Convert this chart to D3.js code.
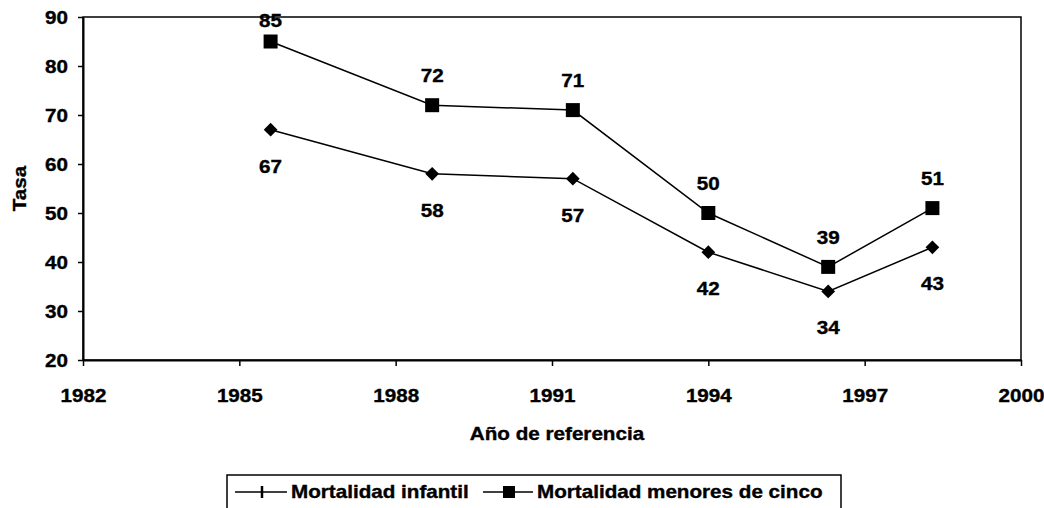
<!DOCTYPE html>
<html>
<head>
<meta charset="utf-8">
<script src="https://cdn.jsdelivr.net/npm/d3@7"></script>
<style>
  body { margin: 0; background: #fff; }
  text { font-family: "Liberation Sans", Arial, sans-serif; font-weight: bold; fill: #000; stroke: #000; stroke-width: 0.35px; }
</style>
</head>
<body>
<div id="chart"></div>
<script>
const years = [1985.6, 1988.7, 1991.4, 1994.0, 1996.3, 1998.3];
const infantil = [67, 58, 57, 42, 34, 43];
const menoresCinco = [85, 72, 71, 50, 39, 51];
const xTicks = [1982, 1985, 1988, 1991, 1994, 1997, 2000];
const yTicks = [20, 30, 40, 50, 60, 70, 80, 90];
const seriesNames = ["Mortalidad infantil", "Mortalidad menores de cinco"];

const W = 1044, H = 508;
const margin = { top: 17, right: 23, bottom: 148, left: 83 };
const width = W - margin.left - margin.right;
const height = H - margin.top - margin.bottom;
const fontSize = 17.5;
const stretch = 1.18; // the original text is wider than its height suggests

const svg = d3.select("#chart")
    .append("svg")
    .attr("width", W)
    .attr("height", H);

const g = svg.append("g")
    .attr("transform", `translate(${margin.left}, ${margin.top})`);

const x = d3.scaleLinear().domain([1982, 2000]).range([0, width]);
const y = d3.scaleLinear().domain([20, 90]).range([height, 0]);

// place a stretched label
function label(parent, tx, ty, str, anchor, rotate) {
    return parent.append("text")
        .attr("transform", `translate(${tx}, ${ty})${rotate ? " rotate(-90)" : ""} scale(${stretch}, 1)`)
        .attr("text-anchor", anchor || "middle")
        .style("font-size", fontSize + "px")
        .text(str);
}

// plot frame (top / right)
g.append("rect")
    .attr("width", width)
    .attr("height", height)
    .attr("fill", "none")
    .attr("stroke", "#000")
    .attr("stroke-width", 1.5);

// Axes
const xAxis = g.append("g")
    .attr("transform", `translate(0, ${height})`)
    .call(d3.axisBottom(x).tickValues(xTicks).tickFormat(d3.format("d")).tickSize(6).tickSizeOuter(0));

xAxis.selectAll("text")
    .attr("y", null).attr("dy", null)
    .attr("transform", `translate(0, 42) scale(${stretch}, 1)`)
    .style("font-size", fontSize + "px");

const yAxis = g.append("g")
    .call(d3.axisLeft(y).tickValues(yTicks).tickSize(5).tickSizeOuter(0));

yAxis.selectAll("text")
    .attr("x", null).attr("dy", null)
    .attr("transform", `translate(-15, 6) scale(${stretch}, 1)`)
    .style("font-size", fontSize + "px");

[xAxis, yAxis].forEach(a => {
    a.select(".domain").attr("stroke-width", 2);
    a.selectAll(".tick line").attr("stroke-width", 1.5);
    a.selectAll("text").attr("font-family", null).attr("font-size", null);
});

// Lines
const line = d3.line()
    .x((d, i) => x(years[i]))
    .y(d => y(d));

g.append("path")
    .datum(infantil)
    .attr("fill", "none")
    .attr("stroke", "#000")
    .attr("stroke-width", 1.5)
    .attr("d", line);

g.append("path")
    .datum(menoresCinco)
    .attr("fill", "none")
    .attr("stroke", "#000")
    .attr("stroke-width", 1.5)
    .attr("d", line);

// Markers
g.selectAll(".diamond")
    .data(infantil)
    .enter()
    .append("path")
    .attr("class", "diamond")
    .attr("d", d3.symbol(d3.symbolDiamond2, 120))
    .attr("transform", (d, i) => `translate(${x(years[i])}, ${y(d)})`)
    .attr("fill", "#000");

g.selectAll(".square")
    .data(menoresCinco)
    .enter()
    .append("rect")
    .attr("class", "square")
    .attr("x", (d, i) => x(years[i]) - 7)
    .attr("y", d => y(d) - 7)
    .attr("width", 14)
    .attr("height", 14)
    .attr("fill", "#000");

// Data labels
infantil.forEach((d, i) => label(g, x(years[i]), y(d) + 43, d));
menoresCinco.forEach((d, i) => label(g, x(years[i]), Math.max(y(d) - 23, 10), d));

// Axis titles
label(svg, 557, 440, "Año de referencia");
label(svg, 26, margin.top + height / 2, "Tasa", "middle", true);

// Legend
const leg = svg.append("g");
leg.append("rect")
    .attr("x", 227).attr("y", 475)
    .attr("width", 614).attr("height", 36)
    .attr("fill", "#fff")
    .attr("stroke", "#000")
    .attr("stroke-width", 1.5);

const legY = 492;
leg.append("line")
    .attr("x1", 235).attr("x2", 287).attr("y1", legY).attr("y2", legY)
    .attr("stroke", "#000").attr("stroke-width", 1.5);
leg.append("line")
    .attr("x1", 262).attr("x2", 262).attr("y1", legY - 6).attr("y2", legY + 6)
    .attr("stroke", "#000").attr("stroke-width", 2.5);
label(leg, 291, legY + 6, seriesNames[0], "start");

leg.append("line")
    .attr("x1", 483).attr("x2", 533).attr("y1", legY).attr("y2", legY)
    .attr("stroke", "#000").attr("stroke-width", 1.5);
leg.append("rect")
    .attr("x", 503).attr("y", legY - 6)
    .attr("width", 12).attr("height", 12)
    .attr("fill", "#000");
label(leg, 537, legY + 6, seriesNames[1], "start");
</script>
</body>
</html>
